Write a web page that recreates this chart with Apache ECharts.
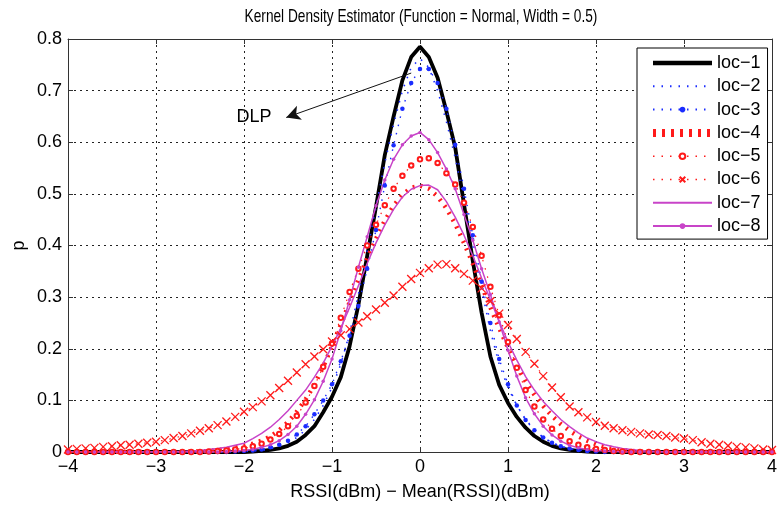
<!DOCTYPE html>
<html>
<head>
<meta charset="utf-8">
<script src="https://cdn.jsdelivr.net/npm/echarts@6/dist/echarts.min.js"></script>
<style>html,body{margin:0;padding:0;background:#fff}#c{width:780px;height:508px}</style>
</head>
<body>
<div id="c"></div>
<script>
// x sample grid (RSSI deviation, dBm)
const xs = [
 -4.0,-3.9,-3.8,-3.7,-3.6,-3.5,-3.4,-3.3,-3.2,-3.1,
 -3.0,-2.9,-2.8,-2.7,-2.6,-2.5,-2.4,-2.3,-2.2,-2.1,
 -2.0,-1.9,-1.8,-1.7,-1.6,-1.5,-1.4,-1.3,-1.2,-1.1,
 -1.0,-0.9,-0.8,-0.7,-0.6,-0.5,-0.4,-0.3,-0.2,-0.1,
  0.0, 0.1, 0.2, 0.3, 0.4, 0.5, 0.6, 0.7, 0.8, 0.9,
  1.0, 1.1, 1.2, 1.3, 1.4, 1.5, 1.6, 1.7, 1.8, 1.9,
  2.0, 2.1, 2.2, 2.3, 2.4, 2.5, 2.6, 2.7, 2.8, 2.9,
  3.0, 3.1, 3.2, 3.3, 3.4, 3.5, 3.6, 3.7, 3.8, 3.9,
  4.0];

const loc1 = [
 0,0,0,0,0,0,0,0,0,0,
 0,0,0,0,0,0,0,0,0,0,
 0,0.001,0.002,0.004,0.007,0.012,0.02,0.033,0.05,0.077,
 0.107,0.145,0.205,0.285,0.38,0.475,0.575,0.65,0.72,0.765,
 0.785,0.765,0.725,0.66,0.59,0.48,0.37,0.27,0.185,0.13,
 0.095,0.068,0.047,0.031,0.02,0.012,0.007,0.004,0.002,0.001,
 0,0,0,0,0,0,0,0,0,0,
 0,0,0,0,0,0,0,0,0,0,
 0];
const loc2 = [
 0,0,0,0,0,0,0,0,0,0,
 0,0,0,0,0,0,0,0,0,0,
 0.001,0.002,0.003,0.006,0.011,0.018,0.028,0.043,0.063,0.09,
 0.125,0.17,0.23,0.305,0.39,0.475,0.56,0.635,0.70,0.745,
 0.762,0.745,0.70,0.64,0.57,0.49,0.40,0.315,0.235,0.17,
 0.125,0.09,0.063,0.043,0.028,0.018,0.011,0.006,0.003,0.002,
 0.001,0,0,0,0,0,0,0,0,0,
 0,0,0,0,0,0,0,0,0,0,
 0];
const loc3 = [
 0,0,0,0,0,0,0,0,0,0,
 0,0,0,0,0,0,0,0,0,0.001,
 0.002,0.003,0.005,0.009,0.014,0.022,0.034,0.05,0.073,0.1,
 0.131,0.176,0.225,0.283,0.355,0.43,0.516,0.594,0.665,0.715,
 0.742,0.742,0.715,0.665,0.595,0.51,0.42,0.33,0.25,0.18,
 0.131,0.09,0.062,0.042,0.028,0.018,0.011,0.007,0.004,0.002,
 0.001,0,0,0,0,0,0,0,0,0,
 0,0,0,0,0,0,0,0,0,0,
 0];
const loc4 = [
 0,0,0,0,0,0,0,0,0,0,
 0,0,0,0,0.001,0.001,0.002,0.004,0.006,0.009,
 0.012,0.016,0.022,0.03,0.042,0.058,0.078,0.102,0.13,0.165,
 0.205,0.246,0.29,0.333,0.375,0.413,0.448,0.477,0.498,0.512,
 0.516,0.51,0.495,0.472,0.442,0.405,0.365,0.322,0.28,0.24,
 0.202,0.167,0.137,0.111,0.089,0.07,0.054,0.041,0.03,0.022,
 0.015,0.01,0.007,0.004,0.002,0.001,0,0,0,0,
 0,0,0,0,0,0,0,0,0,0,
 0];
const loc5 = [
 0,0,0,0,0,0,0,0,0,0,
 0,0,0,0,0,0,0.001,0.002,0.003,0.005,
 0.007,0.011,0.016,0.024,0.035,0.05,0.07,0.096,0.128,0.165,
 0.21,0.26,0.31,0.355,0.4,0.44,0.478,0.51,0.535,0.555,
 0.567,0.569,0.56,0.54,0.518,0.483,0.436,0.38,0.32,0.265,
 0.213,0.163,0.12,0.088,0.063,0.045,0.031,0.021,0.014,0.009,
 0.006,0.004,0.002,0.001,0,0,0,0,0,0,
 0,0,0,0,0,0,0,0,0,0,
 0];
const loc6 = [
 0.005,0.006,0.007,0.008,0.01,0.011,0.013,0.014,0.016,0.018,
 0.02,0.023,0.027,0.031,0.036,0.041,0.046,0.052,0.059,0.068,
 0.078,0.087,0.098,0.11,0.124,0.138,0.154,0.17,0.185,0.199,
 0.214,0.226,0.238,0.251,0.263,0.276,0.289,0.303,0.32,0.335,
 0.347,0.356,0.363,0.364,0.356,0.345,0.332,0.317,0.292,0.268,
 0.246,0.219,0.194,0.171,0.147,0.125,0.106,0.088,0.077,0.067,
 0.058,0.051,0.046,0.042,0.039,0.036,0.034,0.033,0.031,0.028,
 0.026,0.023,0.019,0.016,0.014,0.012,0.01,0.009,0.007,0.005,
 0.004];
const loc7 = [
 0,0,0,0,0,0,0,0,0,0,
 0,0,0.001,0.001,0.002,0.003,0.005,0.007,0.009,0.013,
 0.017,0.026,0.036,0.048,0.063,0.08,0.1,0.12,0.145,0.172,
 0.205,0.24,0.28,0.322,0.365,0.405,0.44,0.47,0.494,0.509,
 0.516,0.517,0.508,0.485,0.455,0.42,0.38,0.337,0.295,0.253,
 0.213,0.178,0.146,0.12,0.098,0.08,0.063,0.049,0.037,0.027,
 0.02,0.014,0.01,0.007,0.005,0.003,0.002,0.001,0,0,
 0,0,0,0,0,0,0,0,0,0,
 0];
const loc8 = [
 0,0,0,0,0,0,0,0,0,0,
 0,0,0,0,0,0,0,0,0.001,0.002,
 0.003,0.005,0.009,0.014,0.022,0.034,0.05,0.073,0.101,0.137,
 0.18,0.235,0.295,0.358,0.417,0.477,0.527,0.567,0.595,0.612,
 0.619,0.605,0.58,0.548,0.51,0.46,0.41,0.355,0.305,0.252,
 0.197,0.147,0.105,0.074,0.05,0.033,0.021,0.013,0.008,0.005,
 0.003,0.002,0.001,0,0,0,0,0,0,0,
 0,0,0,0,0,0,0,0,0,0,
 0];

const seriesNames = ['loc\u22121','loc\u22122','loc\u22123','loc\u22124','loc\u22125','loc\u22126','loc\u22127','loc\u22128'];
const hasMarker = [false, false, true, false, true, true, false, true];
const xTicks = [-4,-3,-2,-1,0,1,2,3,4];
const yTicks = [0,0.1,0.2,0.3,0.4,0.5,0.6,0.7,0.8];
const titleText = 'Kernel Density Estimator (Function = Normal, Width = 0.5)';
const xName = 'RSSI(dBm) \u2212 Mean(RSSI)(dBm)';
const yName = 'p';
const annText = 'DLP';
const annTextAt = [-1.885, 0.649];
const annArrowFrom = [-0.1, 0.734];
const annArrowTo = [-1.52, 0.648];

const BLUE = '#1a2cff', RED = '#ff1a1a', MAG = '#c844c8';
const FONT = '"Liberation Sans", Arial, sans-serif';
const FS = 18;

function pairs(v){ return xs.map((x,i)=>[x, v[i]]); }
function fmtX(v){ return v < 0 ? '\u2212' + Math.abs(v) : String(v); }
function fmtY(v){ return v === 0 ? '0' : v.toFixed(1); }

const dotType = [1.5, 7];
const series = [
 {name: seriesNames[0], data: pairs(loc1), symbol:'none', lineStyle:{color:'#000', width:3.8}, itemStyle:{color:'#000'},
  markLine:{silent:true, symbol:['none','arrow'], symbolSize:[11,14], label:{show:false},
    lineStyle:{color:'#111', width:1, type:'solid'},
    data:[[{coord: annArrowFrom}, {coord: annArrowTo}]]},
  markPoint:{silent:true, symbol:'circle', symbolSize:0,
    label:{show:true, formatter: annText, color:'#000', fontSize:FS, fontFamily:FONT},
    data:[{coord: annTextAt}]}},
 {name: seriesNames[1], data: pairs(loc2), symbol:'none', lineStyle:{color:BLUE, width:1.6, type:dotType}, itemStyle:{color:BLUE}},
 {name: seriesNames[2], data: pairs(loc3), symbol:'circle', symbolSize:4.5, lineStyle:{color:BLUE, width:1.4, type:dotType}, itemStyle:{color:BLUE}},
 {name: seriesNames[3], data: pairs(loc4), symbol:'none', lineStyle:{color:RED, width:4.5, type:[2,6]}, itemStyle:{color:RED}},
 {name: seriesNames[4], data: pairs(loc5), symbol:'emptyCircle', symbolSize:4.5, lineStyle:{color:RED, width:1.2, type:dotType}, itemStyle:{color:RED, borderColor:RED, borderWidth:1}},
 {name: seriesNames[5], data: pairs(loc6), symbol:'path://M0,0L10,10M10,0L0,10', symbolSize:8, lineStyle:{color:RED, width:1.2, type:dotType}, itemStyle:{color:'rgba(0,0,0,0)', borderColor:RED, borderWidth:1.3}},
 {name: seriesNames[6], data: pairs(loc7), symbol:'none', lineStyle:{color:MAG, width:1.5}, itemStyle:{color:MAG}},
 {name: seriesNames[7], data: pairs(loc8), symbol:'circle', symbolSize:3.5, lineStyle:{color:MAG, width:1.5}, itemStyle:{color:MAG}}
].map(s => Object.assign({type:'line', xAxisIndex:0, yAxisIndex:0, showSymbol:true, smooth:false, emphasis:{disabled:true}, animation:false}, s));

const legendLine = [
 {width:4.5}, {width:2, type:dotType}, {width:2, type:dotType}, {width:8, type:[3,6]},
 {width:1.5, type:dotType}, {width:1.5, type:dotType}, {width:2}, {width:2}
];
const legendData = seriesNames.map((n,i) => {
 const d = {name:n, lineStyle: legendLine[i]};
 if (!hasMarker[i]) d.itemStyle = {color:'rgba(0,0,0,0)', borderWidth:0, opacity:0};
 return d;
});

const axisLineStyle = {color:'#333', width:1};
const chart = echarts.init(document.getElementById('c'), null, {renderer:'canvas'});
chart.setOption({
 animation:false,
 backgroundColor:'#fff',
 textStyle:{fontFamily:FONT},
 graphic:[{type:'text', x:421, y:17, scaleX:0.72, silent:true,
   style:{text:titleText, fontSize:19, fontFamily:FONT, fill:'#000', textAlign:'center', textVerticalAlign:'middle'}}],
 grid:{left:68, right:7, top:39, bottom:56, containLabel:false},
 legend:{orient:'vertical', left:637, top:48, data:legendData,
   padding:[6,7,4,12], itemWidth:59, itemHeight:7, itemGap:5.3,
   backgroundColor:'#fff', borderColor:'#000', borderWidth:1,
   textStyle:{fontSize:FS, color:'#000', fontFamily:FONT}, selectedMode:false},
 xAxis:[
  {type:'value', min:xTicks[0], max:xTicks[xTicks.length-1], interval:1, position:'bottom',
   name:xName, nameLocation:'middle', nameGap:31, nameMoveOverlap:false, nameTextStyle:{fontSize:FS, color:'#000', fontFamily:FONT},
   axisLine:{show:true, onZero:false, lineStyle:axisLineStyle},
   axisTick:{show:true, inside:true, length:5, lineStyle:axisLineStyle},
   axisLabel:{formatter:fmtX, fontSize:FS, color:'#000', margin:6, fontFamily:FONT},
   splitLine:{show:true, lineStyle:{color:'#222', width:1, type:[2,4]}}},
  {type:'value', min:xTicks[0], max:xTicks[xTicks.length-1], interval:1, position:'top',
   axisLine:{show:true, onZero:false, lineStyle:axisLineStyle},
   axisTick:{show:true, inside:true, length:5, lineStyle:axisLineStyle},
   axisLabel:{show:false}, splitLine:{show:false}}
 ],
 yAxis:[
  {type:'value', min:yTicks[0], max:yTicks[yTicks.length-1], interval:0.1, position:'left',
   name:yName, nameLocation:'middle', nameGap:40, nameMoveOverlap:false, nameRotate:90, nameTextStyle:{fontSize:FS, color:'#000', fontFamily:FONT},
   axisLine:{show:true, onZero:false, lineStyle:axisLineStyle},
   axisTick:{show:true, inside:true, length:5, lineStyle:axisLineStyle},
   axisLabel:{formatter:fmtY, fontSize:FS, color:'#000', margin:6, fontFamily:FONT},
   splitLine:{show:true, lineStyle:{color:'#222', width:1, type:[2,4]}}},
  {type:'value', min:yTicks[0], max:yTicks[yTicks.length-1], interval:0.1, position:'right',
   axisLine:{show:true, onZero:false, lineStyle:axisLineStyle},
   axisTick:{show:true, inside:true, length:5, lineStyle:axisLineStyle},
   axisLabel:{show:false}, splitLine:{show:false}}
 ],
 series: series
});
</script>
</body>
</html>
